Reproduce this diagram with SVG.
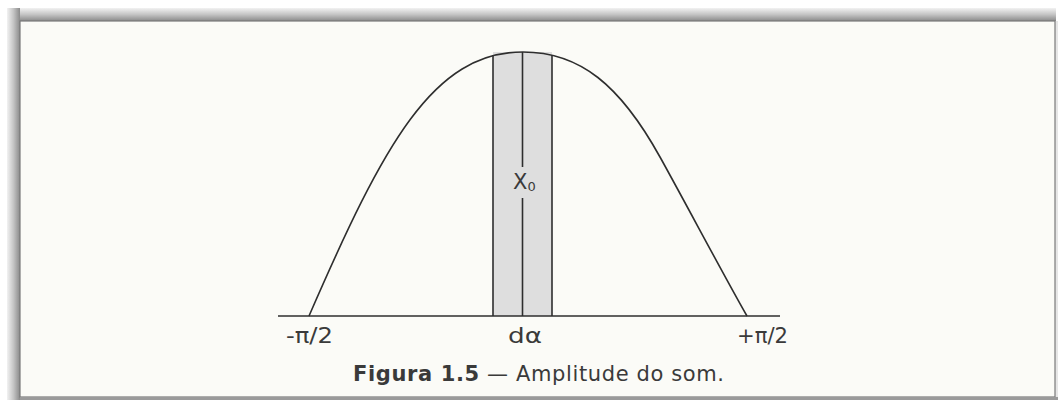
<svg xmlns="http://www.w3.org/2000/svg" width="1058" height="400" viewBox="0 0 1058 400">
<defs>
<linearGradient id="shTop" x1="0" y1="0" x2="0" y2="1">
<stop offset="0" stop-color="#f2f2f2"/>
<stop offset="0.5" stop-color="#c4c4c4"/>
<stop offset="1" stop-color="#8a8a8a"/>
</linearGradient>
<linearGradient id="shLeft" x1="0" y1="0" x2="1" y2="0">
<stop offset="0" stop-color="#f2f2f2"/>
<stop offset="0.5" stop-color="#c4c4c4"/>
<stop offset="1" stop-color="#8a8a8a"/>
</linearGradient>
<style>
.ln{stroke:#2e2e2e;stroke-width:1.6;fill:none}
.lbl{font-family:"DejaVu Sans","Liberation Sans",sans-serif;fill:#3a3a3a;font-size:21px}
.cap{font-family:"DejaVu Sans","Liberation Sans",sans-serif;fill:#3a3a3a;font-size:21px}
</style>
</defs>
<rect x="0" y="0" width="1058" height="400" fill="#ffffff"/>
<rect x="7" y="8" width="1049" height="13" fill="url(#shTop)"/>
<rect x="7" y="8" width="13" height="392" fill="url(#shLeft)"/>
<rect x="1055" y="21" width="3" height="379" fill="#e6e6e6"/>
<rect x="20" y="21" width="1035" height="376" fill="#fbfbf7" stroke="#7a7a7a" stroke-width="1.2"/>
<rect x="20" y="397" width="1038" height="3" fill="#9a9a9a"/>
<g id="band">
<rect x="493" y="52" width="59" height="264" fill="#dedede"/>
<line class="ln" x1="493" y1="55" x2="493" y2="316"/>
<line class="ln" x1="552" y1="55" x2="552" y2="316"/>
<line class="ln" x1="522.5" y1="52" x2="522.5" y2="167"/>
<line class="ln" x1="522.5" y1="198" x2="522.5" y2="316"/>
</g>
<g id="curve">
<path class="ln" d="M309,316 C384,143.5 433,52 523,52 C580,52 620,85 660,157 C685,202 729,285 747,316"/>
</g>
<g id="axis">
<line class="ln" x1="278" y1="316" x2="780" y2="316" stroke-width="1.4"/>
</g>
<g id="labels">
<text class="lbl" x="286" y="343" textLength="47" lengthAdjust="spacingAndGlyphs">-π/2</text>
<text class="lbl" x="508" y="343" textLength="34" lengthAdjust="spacingAndGlyphs">dα</text>
<text class="lbl" x="737" y="343" textLength="51" lengthAdjust="spacingAndGlyphs">+π/2</text>
<text class="lbl" x="513" y="189" font-size="21">X<tspan font-size="13" dy="2">0</tspan></text>
</g>
<g id="caption">
<text class="cap" x="353" y="381" textLength="371" lengthAdjust="spacing"><tspan font-weight="bold">Figura 1.5</tspan> — Amplitude do som.</text>
</g>
</svg>
